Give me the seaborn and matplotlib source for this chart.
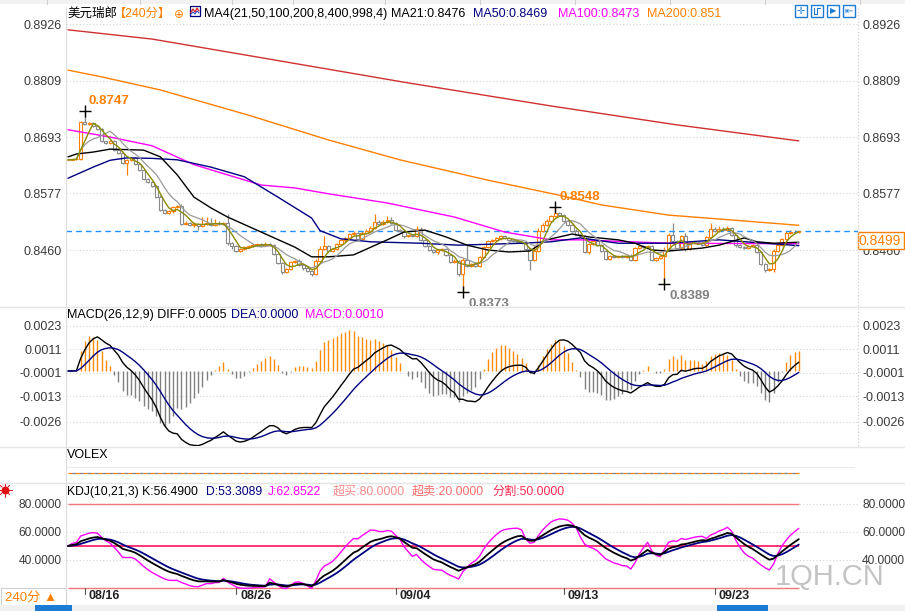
import numpy as np
import pandas as pd
import matplotlib
matplotlib.use("Agg")
import matplotlib.pyplot as plt
from matplotlib.patches import Rectangle
import seaborn as sns

# ------------------------------------------------------------------ data
CLOSE = [
    0.8646, 0.8647, 0.8648, 0.8724, 0.8720, 0.8722, 0.8716, 0.8710, 0.8684, 0.8680,
    0.8684, 0.8666, 0.8660, 0.8640, 0.8646, 0.8650, 0.8638, 0.8624, 0.8606, 0.8600,
    0.8592, 0.8570, 0.8542, 0.8536, 0.8540, 0.8548, 0.8550, 0.8514, 0.8516, 0.8512,
    0.8514, 0.8510, 0.8514, 0.8516, 0.8512, 0.8516, 0.8514, 0.8515, 0.8474, 0.8468,
    0.8458, 0.8462, 0.8466, 0.8468, 0.8470, 0.8472, 0.8470, 0.8472, 0.8470, 0.8452,
    0.8434, 0.8414, 0.8420, 0.8435, 0.8438, 0.8430, 0.8422, 0.8416, 0.8410, 0.8438,
    0.8462, 0.8468, 0.8458, 0.8462, 0.8472, 0.8480, 0.8484, 0.8494, 0.8496, 0.8482,
    0.8496, 0.8500, 0.8506, 0.8518, 0.8514, 0.8518, 0.8522, 0.8516, 0.8502, 0.8500,
    0.8488, 0.8490, 0.8488, 0.8504, 0.8480, 0.8468, 0.8460, 0.8456, 0.8460, 0.8462,
    0.8450, 0.8436, 0.8438, 0.8410, 0.8440, 0.8428, 0.8432, 0.8428, 0.8446, 0.8466,
    0.8478, 0.8480, 0.8484, 0.8488, 0.8484, 0.8480, 0.8478, 0.8476, 0.8474, 0.8462,
    0.8440, 0.8458, 0.8500, 0.8512, 0.8520, 0.8530, 0.8536, 0.8532, 0.8520, 0.8512,
    0.8500, 0.8492, 0.8488, 0.8456, 0.8472, 0.8478, 0.8470, 0.8458, 0.8442, 0.8448,
    0.8446, 0.8448, 0.8446, 0.8448, 0.8440, 0.8464, 0.8468, 0.8466, 0.8468, 0.8440,
    0.8444, 0.8448, 0.8460, 0.8492, 0.8478, 0.8464, 0.8488, 0.8462, 0.8474, 0.8476,
    0.8474, 0.8470, 0.8486, 0.8504, 0.8500, 0.8504, 0.8502, 0.8506, 0.8490, 0.8470,
    0.8466, 0.8464, 0.8468, 0.8470, 0.8456, 0.8432, 0.8418, 0.8420, 0.8458, 0.8470,
    0.8482, 0.8496, 0.8498, 0.8497, 0.8499,
]
# wick lengths beyond the candle body, in pips (0.0001)
UP_WICK = [
    1, 1, 2, 3, 23, 2, 2, 1, 2, 1,
    2, 2, 2, 3, 2, 2, 1, 2, 2, 2,
    2, 2, 3, 2, 3, 2, 2, 4, 3, 2,
    4, 2, 14, 12, 10, 8, 3, 2, 20, 2,
    2, 3, 3, 2, 2, 3, 2, 4, 2, 2,
    2, 2, 3, 2, 2, 3, 2, 2, 3, 4,
    6, 20, 2, 3, 2, 3, 3, 2, 3, 2,
    3, 4, 3, 17, 3, 4, 8, 6, 2, 2,
    3, 2, 2, 6, 4, 2, 2, 2, 2, 3,
    2, 2, 3, 2, 4, 30, 2, 3, 2, 3,
    2, 3, 2, 3, 2, 2, 2, 2, 2, 2,
    2, 10, 6, 3, 3, 2, 12, 3, 2, 2,
    2, 3, 2, 3, 2, 3, 2, 2, 3, 2,
    2, 2, 2, 2, 3, 3, 2, 2, 3, 2,
    2, 2, 6, 3, 23, 2, 4, 8, 2, 2,
    2, 2, 3, 11, 4, 5, 4, 4, 2, 2,
    2, 2, 3, 3, 2, 2, 2, 2, 4, 3,
    2, 4, 3, 4, 1,
]
LOW_WICK = [
    1, 1, 1, 2, 2, 2, 2, 2, 2, 2,
    2, 2, 2, 2, 25, 2, 2, 2, 2, 2,
    2, 3, 2, 2, 2, 3, 2, 3, 2, 2,
    4, 8, 2, 2, 2, 2, 2, 3, 3, 6,
    3, 2, 2, 2, 2, 2, 3, 2, 2, 3,
    2, 3, 2, 2, 2, 2, 3, 2, 3, 2,
    2, 2, 3, 2, 2, 2, 3, 2, 2, 3,
    2, 2, 2, 2, 3, 2, 2, 2, 3, 2,
    3, 2, 2, 2, 2, 2, 3, 2, 5, 2,
    2, 3, 2, 3, 37, 2, 2, 3, 2, 2,
    2, 2, 2, 3, 2, 2, 2, 2, 2, 3,
    21, 2, 2, 2, 2, 2, 2, 2, 3, 2,
    2, 2, 2, 3, 4, 2, 2, 3, 3, 2,
    2, 2, 2, 3, 2, 2, 2, 2, 2, 3,
    2, 2, 59, 2, 2, 2, 2, 3, 2, 2,
    2, 2, 2, 2, 2, 2, 2, 2, 2, 3,
    2, 2, 2, 2, 3, 3, 3, 2, 6, 2,
    2, 2, 2, 2, 1,
]
LAST_PRICE = 0.8499

# long moving averages (bar index, value)
MA21_IDX = [0, 2, 6, 10, 18, 22, 26, 30, 34, 38, 46, 54, 58, 62, 68, 76, 80, 85, 90, 95,
            100, 105, 110, 114, 120, 124, 131, 135, 139, 143, 151, 155, 161, 164, 168, 174]
MA21_VAL = [0.8652, 0.8658, 0.8662, 0.8668, 0.8666, 0.8652, 0.8615, 0.8569, 0.8547, 0.8528,
            0.8497, 0.8466, 0.8446, 0.8446, 0.8450, 0.8481, 0.8497, 0.8501, 0.8487, 0.8470,
            0.8460, 0.8456, 0.8458, 0.8481, 0.8493, 0.8487, 0.8481, 0.8474, 0.8460, 0.8458,
            0.8464, 0.8470, 0.8485, 0.8477, 0.8474, 0.8476]
MA50_IDX = [0, 6, 10, 14, 20, 26, 34, 42, 50, 58, 60, 65, 72, 84, 93, 108, 115, 122, 131,
            143, 155, 174]
MA50_VAL = [0.8608, 0.8631, 0.8645, 0.8650, 0.8649, 0.8646, 0.8631, 0.8611, 0.8569, 0.8526,
            0.8500, 0.8483, 0.8477, 0.8474, 0.8470, 0.8474, 0.8477, 0.8485, 0.8474,
            0.8474, 0.8481, 0.8469]
MA100_IDX = [0, 10, 20, 30, 38, 46, 54, 62, 76, 92, 104, 115, 122, 143, 174]
MA100_VAL = [0.8708, 0.8693, 0.8675, 0.8636, 0.8615, 0.8594, 0.8588, 0.8576, 0.8557, 0.8528,
             0.8497, 0.8481, 0.8481, 0.8474, 0.8473]
MA200_IDX = [0, 8, 22, 43, 62, 79, 100, 117, 127, 143, 155, 174]
MA200_VAL = [0.8831, 0.8817, 0.8790, 0.8738, 0.8687, 0.8646, 0.8604, 0.8573, 0.8553, 0.8532,
             0.8524, 0.8511]
MA400_IDX = [0, 20, 45, 80, 115, 145, 174]
MA400_VAL = [0.8914, 0.8895, 0.8858, 0.8806, 0.8757, 0.8718, 0.8685]

HIGH_MARK_IDX = [4, 116]
LOW_MARK_IDX = [94, 142]

DATE_IDX = [4, 40, 78, 118, 154]
DATE_LBL = ['08/16', '08/26', '09/04', '09/13', '09/23']
PRICE_TICKS = [0.8926, 0.8809, 0.8693, 0.8577, 0.8460]
MACD_TICKS = [0.0023, 0.0011, -0.0001, -0.0013, -0.0026]
KDJ_TICKS = [80, 60, 40]
KDJ_OVERBOUGHT, KDJ_OVERSOLD, KDJ_MID = 80, 20, 50

# indicator read-outs shown in the panel headers
MA_HEADER = ['MA21:0.8476', 'MA50:0.8469', 'MA100:0.8473', 'MA200:0.851']
MACD_HEADER = ['MACD(26,12,9) DIFF:0.0005', 'DEA:0.0000', 'MACD:0.0010']
KDJ_HEADER = ['KDJ(10,21,3) K:56.4900', 'D:53.3089', 'J:62.8522',
              '超买:80.0000', '超卖:20.0000', '分割:50.0000']

# ------------------------------------------------------------------ derived series
df = pd.DataFrame({'close': CLOSE})
df['idx'] = np.arange(len(df))
df['open'] = df['close'].shift(1).fillna(df['close'].iloc[0])
body_hi = df[['open', 'close']].max(axis=1)
body_lo = df[['open', 'close']].min(axis=1)
df['high'] = body_hi + np.array(UP_WICK) * 1e-4
df['low'] = body_lo - np.array(LOW_WICK) * 1e-4
df['ma4'] = df['close'].rolling(4, min_periods=1).mean()
df['ma8'] = df['close'].rolling(8, min_periods=1).mean()

ema12 = df['close'].ewm(span=12, adjust=False).mean()
ema26 = df['close'].ewm(span=26, adjust=False).mean()
df['diff'] = ema12 - ema26
df['dea'] = df['diff'].ewm(span=9, adjust=False).mean()
df['macd'] = 2 * (df['diff'] - df['dea'])

ln = df['low'].rolling(10, min_periods=1).min()
hn = df['high'].rolling(10, min_periods=1).max()
rsv = (df['close'] - ln) / (hn - ln) * 100
kv, dv = [], []
k = d = 50.0
for r in rsv:
    k = (20 * k + r) / 21
    d = (2 * d + k) / 3
    kv.append(k)
    dv.append(d)
df['K'] = kv
df['D'] = dv
df['J'] = 3 * df['K'] - 2 * df['D']

# ------------------------------------------------------------------ figure
sns.set_theme(style="white")
plt.rcParams['font.family'] = ['Liberation Sans', 'Noto Sans CJK SC', 'DejaVu Sans']
plt.rcParams['axes.unicode_minus'] = False

W, H = 905, 611
fig = plt.figure(figsize=(W / 100, H / 100), dpi=100)
fig.patch.set_facecolor('white')

ORANGE = '#FF8000'
GREY = '#8a8a8a'
NAVY = '#000080'
MAGENTA = '#FF00FF'
TXT = '#3a3a3a'

X0, X1 = 66, 858
XLIM = (-0.48, 188.1)


def ax_at(y0, y1, x0=X0, x1=X1):
    a = fig.add_axes([x0 / W, 1 - y1 / H, (x1 - x0) / W, (y1 - y0) / H])
    a.set_facecolor('white')
    for s in a.spines.values():
        s.set_visible(False)
    a.set_xlim(*XLIM)
    a.set_xticks([])
    return a


def style_y(a, ticks, fmt, size=9):
    a.set_yticks(ticks)
    a.set_yticklabels([fmt(t) for t in ticks])
    a.tick_params(axis='y', left=False, right=False, labelleft=True, labelright=True,
                  labelsize=size, labelcolor=TXT, pad=3, length=0)
    for t in ticks:
        a.axhline(t, color='#d4d4d4', lw=0.8, ls=(0, (1, 2)), zorder=0)


def ftext(x, y, s, **kw):
    kw.setdefault('fontsize', 9)
    kw.setdefault('va', 'center')
    fig.text(x / W, 1 - y / H, s, **kw)


# ---------------- main price panel
ax = ax_at(8, 306)
ax.set_ylim(0.83446, 0.89590)
style_y(ax, PRICE_TICKS, lambda t: f"{t:.4f}")

up = df['close'] >= df['open']
cols = np.where(up, ORANGE, GREY)
ax.vlines(df['idx'], df['low'], df['high'], colors=cols, lw=0.9, zorder=2)
heights = (body_hi - body_lo).clip(lower=0.00004)
ax.bar(df['idx'], heights, bottom=body_lo, width=0.72, facecolor='white',
       edgecolor=cols, linewidth=0.8, zorder=3)

ax.axhline(LAST_PRICE, color='#1E90FF', lw=1.0, ls=(0, (4, 3)), zorder=2)

for idxs, vals, c in [(MA400_IDX, MA400_VAL, '#D03030'), (MA200_IDX, MA200_VAL, ORANGE),
                      (MA100_IDX, MA100_VAL, MAGENTA), (MA50_IDX, MA50_VAL, NAVY),
                      (MA21_IDX, MA21_VAL, 'black')]:
    sns.lineplot(x=idxs, y=vals, ax=ax, color=c, lw=1.0, legend=False, zorder=4)
sns.lineplot(data=df, x='idx', y='ma8', ax=ax, color='#9a9a9a', lw=0.9, legend=False, zorder=4)
sns.lineplot(data=df, x='idx', y='ma4', ax=ax, color='#8B8B00', lw=1.0, legend=False, zorder=5)
ax.set_xlabel('')
ax.set_ylabel('')
ax.set_xlim(*XLIM)

for i in HIGH_MARK_IDX:
    v = df['high'].iloc[i]
    ax.plot([i], [v], marker='+', color='black', ms=8, mew=1.0, zorder=6)
    ax.annotate(f"{v:.4f}", xy=(i, v), xytext=(3, 3), textcoords='offset points',
                ha='left', va='bottom', color=ORANGE, fontsize=9.5, fontweight='bold')
for i in LOW_MARK_IDX:
    v = df['low'].iloc[i]
    ax.plot([i], [v], marker='+', color='black', ms=8, mew=1.0, zorder=6)
    ax.annotate(f"{v:.4f}", xy=(i, v), xytext=(4, -4), textcoords='offset points',
                ha='left', va='top', color='#808080', fontsize=9.5, fontweight='bold')

# ---------------- MACD panel
am = ax_at(306, 446)
am.set_ylim(-0.003828, 0.003321)
style_y(am, MACD_TICKS, lambda t: f"{t:.4f}")
hcols = np.where(df['macd'] >= 0, '#FF8C00', '#808080')
am.vlines(df['idx'], 0, df['macd'], colors=hcols, lw=1.0, zorder=2)
sns.lineplot(data=df, x='idx', y='diff', ax=am, color='black', lw=1.0, legend=False, zorder=4)
sns.lineplot(data=df, x='idx', y='dea', ax=am, color=NAVY, lw=1.0, legend=False, zorder=4)
am.set_xlabel('')
am.set_ylabel('')
am.set_xlim(*XLIM)

# ---------------- VOLEX panel
av = ax_at(446, 482)
av.set_ylim(0, 1)
av.set_yticks([])
n = len(df)
av.plot([0, n - 1], [0.25, 0.25], color=ORANGE, lw=0.9, ls=(0, (3, 3)))
av.plot([0, n - 1], [0.25, 0.25], color='#808080', lw=0.9, ls=(3, (3, 3)))
av.plot([XLIM[0], XLIM[1] - 1], [0.42, 0.42], color='#ececec', lw=0.8)

# ---------------- KDJ panel
ak = ax_at(482, 590)
ak.set_ylim(18.57, 95.7)
style_y(ak, KDJ_TICKS, lambda t: f"{t:.4f}", size=8.6)
ak.hlines([KDJ_OVERBOUGHT, KDJ_OVERSOLD], 0, n - 1, colors='#F07878', lw=1.0, zorder=2)
ak.hlines([KDJ_MID], 0, n - 1, colors='#FF1060', lw=1.2, zorder=2)
sns.lineplot(data=df, x='idx', y='J', ax=ak, color=MAGENTA, lw=1.0, legend=False, zorder=4)
sns.lineplot(data=df, x='idx', y='D', ax=ak, color=NAVY, lw=1.3, legend=False, zorder=4)
sns.lineplot(data=df, x='idx', y='K', ax=ak, color='black', lw=1.3, legend=False, zorder=5)
ak.set_xlabel('')
ak.set_ylabel('')
ak.set_xlim(*XLIM)

# ---------------- date axis
ad = ax_at(588, 604)
ad.set_ylim(1, 0)
ad.set_yticks([])
ad.patch.set_alpha(0)
for i, lbl in zip(DATE_IDX, DATE_LBL):
    ad.plot([i, i], [0.0, 0.35], color='#555555', lw=0.8)
    ad.annotate(lbl, xy=(i, 0.5), xytext=(3, 0), textcoords='offset points',
                ha='left', va='center', fontsize=9, color='#222222', fontweight='bold')

# ---------------- overlay decorations
ov = fig.add_axes([0, 0, 1, 1], zorder=10)
ov.set_xlim(0, W)
ov.set_ylim(H, 0)
ov.axis('off')
ov.patch.set_alpha(0)
# top tab strip
ov.add_patch(Rectangle((0, 0), W, 4, facecolor='#f2f2f2', edgecolor='none'))
for x in [47, 140, 232, 293, 385, 480, 575, 670, 765, 860]:
    ov.plot([x, x], [0, 4], color='#cfcfcf', lw=0.8)
# separators
for y in [306.5, 446.5, 482.5]:
    ov.plot([0, W], [y, y], color='#e4e4e4', lw=1.0)
ov.plot([65.5, 65.5], [8, 590], color='#dcdcdc', lw=0.8)
ov.plot([857.5, 857.5], [8, 446], color='#c8c8c8', lw=0.8, ls=(0, (1, 2)))
# current price box
ov.add_patch(Rectangle((858, 232), 46, 17, facecolor='white', edgecolor=ORANGE, lw=1.0))
ov.text(880, 241, f"{LAST_PRICE:.4f}", ha='center', va='center', color=ORANGE, fontsize=10)
# top-right buttons
for bx in [795, 811, 827, 843]:
    ov.add_patch(Rectangle((bx, 5), 12, 12, facecolor='white', edgecolor='#1C7CD5', lw=1.0))
ov.text(801, 11, '✛', ha='center', va='center', color='#1C7CD5', fontsize=7,
        family=['DejaVu Sans'])
ov.plot([814, 814, 817, 817, 820], [8, 14, 14, 8, 8], color='#1C7CD5', lw=0.8)
ov.text(833, 11, '▶', ha='center', va='center', color='#1C7CD5', fontsize=6,
        family=['DejaVu Sans'])
ov.text(849, 11, '⇤', ha='center', va='center', color='#1C7CD5', fontsize=7,
        family=['DejaVu Sans'])
# title icon
ov.add_patch(Rectangle((189.5, 5.5), 10, 10, facecolor='white', edgecolor=NAVY, lw=0.9))
ov.plot([190.5, 193, 195, 197, 199], [13, 9, 12, 8, 11], color='#E02020', lw=0.9)
ov.plot([190.5, 193, 195, 197, 199], [14.5, 12, 14, 11, 13], color='#2040D0', lw=0.7)
# sun icon
ov.scatter([5], [490], s=22, color='#E01010', zorder=11)
for a_ in np.linspace(0, 2 * np.pi, 8, endpoint=False):
    ov.plot([5 + 4 * np.cos(a_), 5 + 6.5 * np.cos(a_)],
            [490 + 4 * np.sin(a_), 490 + 6.5 * np.sin(a_)], color='#E01010', lw=0.7)
# period box
ov.add_patch(Rectangle((0.5, 588), 65, 18, facecolor='white', edgecolor='#d0d0d0', lw=0.8))
ov.text(5, 598, '240分 ▲', ha='left', va='center', color=ORANGE, fontsize=9.5)
# bottom toolbar
ov.add_patch(Rectangle((0, 605), W, 6, facecolor='#f0f0f0', edgecolor='none'))
ov.add_patch(Rectangle((35, 605), 37, 6, facecolor='#1C7CD5', edgecolor='none'))
ov.add_patch(Rectangle((717, 605), 51, 6, facecolor='#1C7CD5', edgecolor='none'))
# watermark
ov.text(830, 577, '1QH.CN', ha='center', va='center', color='#c4c4c4', fontsize=21)

# ---------------- header texts
ftext(67, 14, '美元瑞郎', color='black')
ftext(114, 14, '【240分】', color=ORANGE, fontsize=8.8)
ftext(174, 15, '⊕', color=ORANGE, family=['DejaVu Sans'], fontsize=8.5)
ftext(204, 14, 'MA4(21,50,100,200,8,400,998,4)', color='black')
ftext(391, 14, MA_HEADER[0], color='black')
ftext(473, 14, MA_HEADER[1], color=NAVY)
ftext(558, 14, MA_HEADER[2], color=MAGENTA)
ftext(647, 14, MA_HEADER[3], color=ORANGE)

ftext(67, 315, MACD_HEADER[0], color='black')
ftext(231, 315, MACD_HEADER[1], color=NAVY)
ftext(305, 315, MACD_HEADER[2], color=MAGENTA)

ftext(67, 455, 'VOLEX', color='black')

for x, s, c in zip([67, 206, 268, 333, 412, 492], KDJ_HEADER,
                   ['black', NAVY, MAGENTA, '#FF8A8A', '#FF6A6A', '#FF2A50']):
    ftext(x, 492, s, color=c, fontsize=8.7)

fig.savefig('out.png', dpi=100, facecolor='white')
